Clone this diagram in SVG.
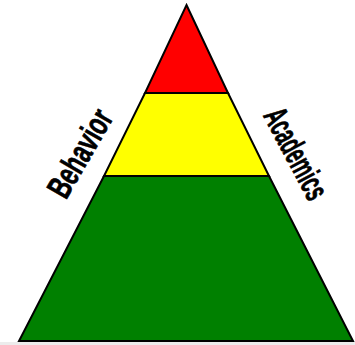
<svg xmlns="http://www.w3.org/2000/svg" width="355" height="345" viewBox="0 0 355 345">
<style>
.tier{stroke:#000;stroke-width:2;stroke-linejoin:miter}
.lbl{font-family:"Liberation Sans Narrow","Liberation Sans",Arial,sans-serif;font-weight:bold;font-size:34px;fill:#000;stroke:#000;stroke-width:0.7}
</style>
<rect x="0" y="0" width="355" height="345" fill="#fff"/>
<rect x="0" y="342" width="355" height="3" fill="#ececec"/>
<g id="tier-green"><polygon class="tier" fill="#008000" points="104,176 269,176 353,341 19,341"/></g>
<g id="tier-yellow"><polygon class="tier" fill="#ffff00" points="145,93 228,93 269,176 104,176"/></g>
<g id="tier-red"><polygon class="tier" fill="#ff0000" points="186.5,5 228,93 145,93"/></g>
<g id="label-behavior"><text class="lbl" text-anchor="middle" transform="translate(90,159) rotate(-60) scale(0.66,1)">Behavior</text></g>
<g id="label-academics"><text class="lbl" text-anchor="middle" transform="translate(286,159) rotate(62) scale(0.55,1)">Academics</text></g>
</svg>
